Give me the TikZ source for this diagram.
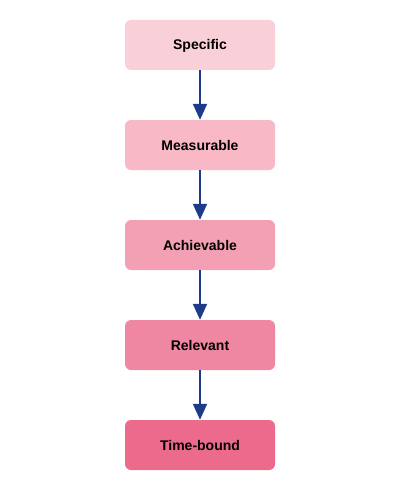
\documentclass[tikz,border=0pt]{standalone}
\usepackage{fontspec}
\setmainfont{Liberation Sans}
\usetikzlibrary{arrows.meta}
\definecolor{c1}{HTML}{F9D0D8}
\definecolor{c2}{HTML}{F8B8C6}
\definecolor{c3}{HTML}{F4A0B4}
\definecolor{c4}{HTML}{F087A2}
\definecolor{c5}{HTML}{EC6A8C}
\definecolor{arr}{HTML}{1E3A8A}
\begin{document}
\begin{tikzpicture}[x=1pt,y=-1pt,
  stepbox/.style={rounded corners=6pt,minimum width=150pt,minimum height=50pt,inner sep=0pt,text height=10pt,text depth=0pt,font=\fontsize{14}{16}\selectfont\bfseries,text=black},
  link/.style={draw=arr,line width=2pt,-{Triangle[length=16pt,width=14pt]}}]
\useasboundingbox (0,0) rectangle (400,500);
\node[stepbox,fill=c1] (s) at (200,45) {Specific};
\node[stepbox,fill=c2] (m) at (200,145) {Measurable};
\node[stepbox,fill=c3] (a) at (200,245) {Achievable};
\node[stepbox,fill=c4] (r) at (200,345) {Relevant};
\node[stepbox,fill=c5] (t) at (200,445) {Time-bound};
\draw[link] (s) -- (m);
\draw[link] (m) -- (a);
\draw[link] (a) -- (r);
\draw[link] (r) -- (t);
\end{tikzpicture}
\end{document}
